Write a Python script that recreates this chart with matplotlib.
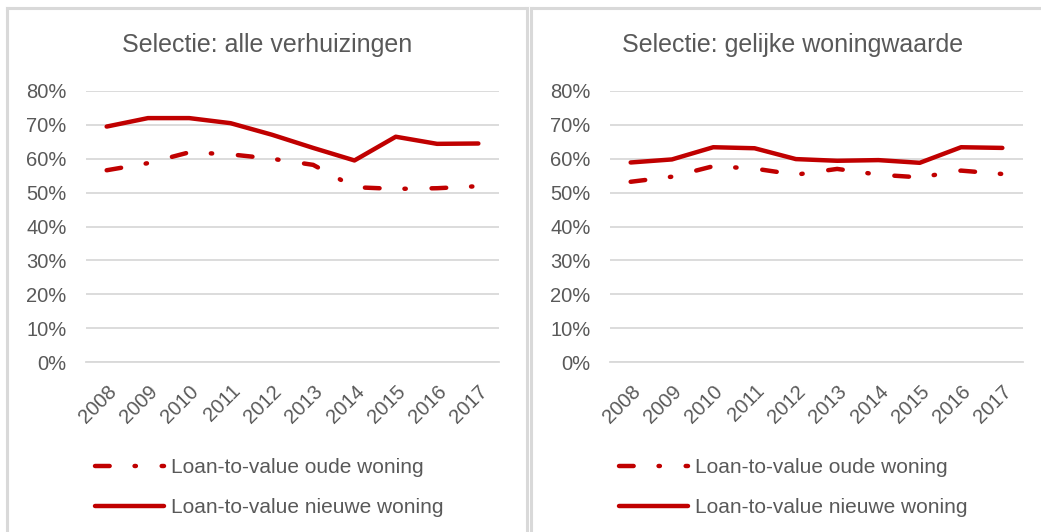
import matplotlib.pyplot as plt
from matplotlib.lines import Line2D

plt.rcParams['font.family'] = ['Liberation Sans', 'DejaVu Sans']

years = ['2008', '2009', '2010', '2011', '2012', '2013', '2014', '2015', '2016', '2017']

# Selectie: alle verhuizingen
oud_alle = [56.6, 58.7, 61.9, 61.3, 60.0, 58.2, 51.6, 51.1, 51.3, 51.9]
nieuw_alle = [69.5, 72.0, 72.0, 70.5, 67.1, 63.2, 59.5, 66.5, 64.4, 64.5]

# Selectie: gelijke woningwaarde
oud_gelijk = [53.2, 54.7, 57.8, 57.1, 55.3, 57.0, 55.3, 54.5, 56.5, 55.5]
nieuw_gelijk = [58.9, 59.8, 63.4, 63.1, 59.9, 59.4, 59.6, 58.8, 63.4, 63.2]

titles = ['Selectie: alle verhuizingen', 'Selectie: gelijke woningwaarde']
labels = ['Loan-to-value oude woning', 'Loan-to-value nieuwe woning']
yticks = [0, 10, 20, 30, 40, 50, 60, 70, 80]

red = '#c00000'
grey = '#595959'
dashdot = (0, (3.3, 5.6, 0.3, 5.8))

fig = plt.figure(figsize=(10.41, 5.32), dpi=100)
W, H = 1041, 532

# panel frames
fr = dict(color='#d9d9d9', lw=2.2, transform=fig.transFigure)
fig.add_artist(Line2D([7 / W, 527 / W], [1 - 8 / H, 1 - 8 / H], **fr))
fig.add_artist(Line2D([7 / W, 7 / W], [0, 1 - 8 / H], **fr))
fig.add_artist(Line2D([527 / W, 527 / W], [0, 1 - 8 / H], **fr))
fig.add_artist(Line2D([531 / W, 1041 / W], [1 - 8 / H, 1 - 8 / H], **fr))
fig.add_artist(Line2D([531 / W, 531 / W], [0, 1 - 8 / H], **fr))

data = [(oud_alle, nieuw_alle), (oud_gelijk, nieuw_gelijk)]
lefts = [86, 610]
title_x = [267, 793]

for i in range(2):
    x0 = lefts[i]
    ax = fig.add_axes([x0 / W, 1 - 362 / H, 413 / W, (362 - 91) / H])
    oud, nieuw = data[i]
    l1, = ax.plot(range(len(years)), oud, color=red, lw=3.2, linestyle=dashdot,
                  dash_capstyle='round', solid_capstyle='round')
    l2, = ax.plot(range(len(years)), nieuw, color=red, lw=3.2, solid_capstyle='round')
    ax.set_xlim(-0.5, len(years) - 0.5)
    ax.set_ylim(0, 80)
    ax.set_yticks(yticks)
    ax.set_yticklabels([f'{v}%' for v in yticks])
    ax.set_xticks(range(len(years)))
    ax.set_xticklabels(years, rotation=45, ha='right', rotation_mode='anchor')
    ax.tick_params(colors=grey, labelsize=14.5, length=0)
    ax.tick_params(axis='y', pad=14)
    ax.tick_params(axis='x', pad=14)
    ax.grid(axis='y', color='#d9d9d9', lw=1.3)
    ax.set_axisbelow(True)
    for s in ax.spines.values():
        s.set_visible(False)
    ax.spines['bottom'].set_visible(True)
    ax.spines['bottom'].set_color('#d9d9d9')
    ax.spines['bottom'].set_linewidth(1.3)
    fig.text(title_x[i] / W, 1 - 45 / H, titles[i], fontsize=18, color=grey,
             ha='center', va='center')
    fig.legend([l1, l2], labels, loc='upper left',
               bbox_to_anchor=((x0 + 1) / W, 1 - 450 / H),
               frameon=False, fontsize=15, labelcolor=grey,
               handlelength=3.3, handletextpad=0.35, labelspacing=1.0,
               borderaxespad=0)

fig.savefig('out.png', dpi=100)
